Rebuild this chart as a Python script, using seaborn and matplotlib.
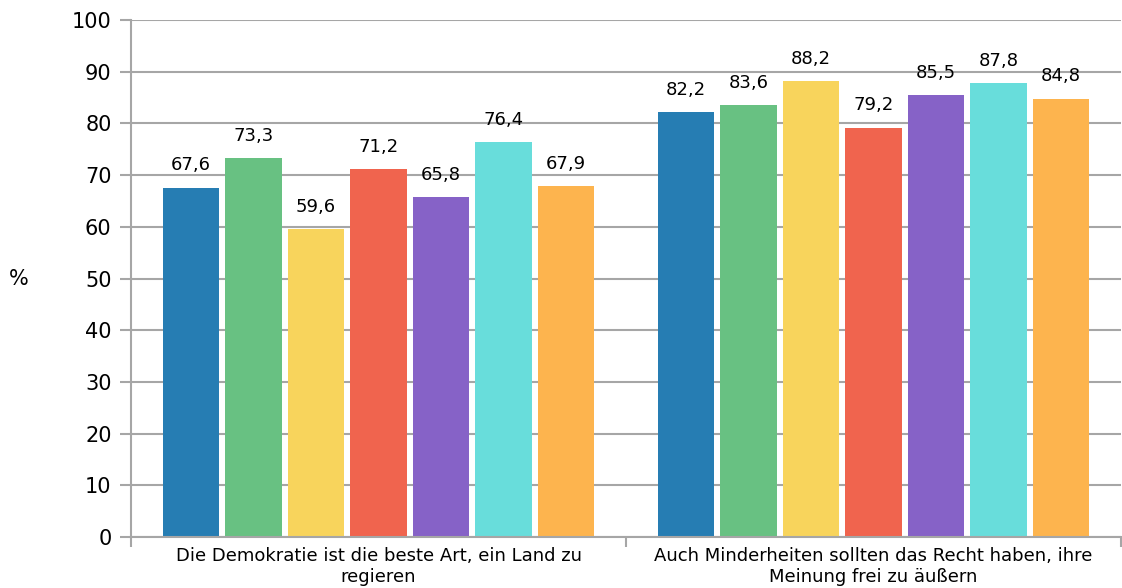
import pandas as pd
import matplotlib.pyplot as plt
import seaborn as sns
from matplotlib.ticker import FixedLocator

# Data
fragen = ['Die Demokratie ist die beste Art, ein Land zu\nregieren',
          'Auch Minderheiten sollten das Recht haben, ihre\nMeinung frei zu äußern']
gruppen = ['Gruppe 1', 'Gruppe 2', 'Gruppe 3', 'Gruppe 4', 'Gruppe 5', 'Gruppe 6', 'Gruppe 7']
werte_demokratie = [67.6, 73.3, 59.6, 71.2, 65.8, 76.4, 67.9]
werte_minderheiten = [82.2, 83.6, 88.2, 79.2, 85.5, 87.8, 84.8]
farben = ['#267db3', '#68c182', '#f8d45c', '#f0644e', '#8662c7', '#68dddb', '#fdb44e']

rows = []
for frage, werte in zip(fragen, [werte_demokratie, werte_minderheiten]):
    for g, v in zip(gruppen, werte):
        rows.append({'frage': frage, 'gruppe': g, 'wert': v})
df = pd.DataFrame(rows)

plt.rcParams['font.family'] = ['DejaVu Sans']
plt.rcParams['text.color'] = 'black'

fig = plt.figure(figsize=(11.22, 5.88), dpi=100)
ax = fig.add_axes([0.1168, 0.0867, 0.8823, 0.8793])

sns.barplot(data=df, x='frage', y='wert', hue='gruppe', palette=farben,
            width=0.884, gap=0.095, legend=False, saturation=1, linewidth=0, ax=ax)

for cont in ax.containers:
    ax.bar_label(cont, labels=[f'{b.get_height():.1f}'.replace('.', ',') for b in cont],
                 padding=9.5, fontsize=13)

ax.set_xlim(-0.5, 1.5)
ax.set_ylim(0, 100)
ax.set_yticks(range(0, 101, 10))
ax.yaxis.grid(True, color='#a6a6a6', lw=1.5)
ax.set_axisbelow(True)

for s in ['top', 'right']:
    ax.spines[s].set_visible(False)
for s in ['left', 'bottom']:
    ax.spines[s].set_color('#a6a6a6')
    ax.spines[s].set_linewidth(1.5)

ax.tick_params(axis='y', length=8, width=1.5, color='#a6a6a6', labelsize=15, pad=6)
ax.tick_params(axis='x', which='major', length=0, labelsize=13, pad=7)
ax.xaxis.set_minor_locator(FixedLocator([-0.5, 0.5, 1.5]))
ax.tick_params(axis='x', which='minor', length=7.5, width=1.5, color='#a6a6a6')

ax.set_xlabel('')
ax.set_ylabel('%', rotation=0, fontsize=15, va='center')
ax.yaxis.set_label_coords(-0.113, 0.5)

fig.savefig('out.png', dpi=100)
